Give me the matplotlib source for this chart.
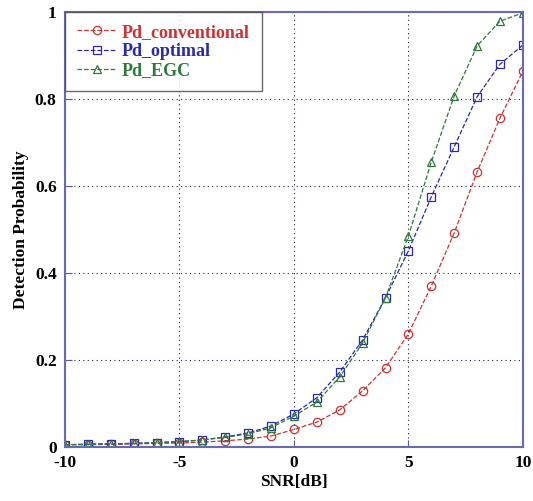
import matplotlib.pyplot as plt
import numpy as np
from matplotlib.ticker import FuncFormatter

snr = [-10, -9, -8, -7, -6, -5, -4, -3, -2, -1, 0, 1, 2, 3, 4, 5, 6, 7, 8, 9, 10]
pd_conventional = [0.005, 0.005, 0.006, 0.007, 0.008, 0.009, 0.011, 0.014, 0.018, 0.025,
                   0.040, 0.057, 0.085, 0.129, 0.182, 0.260, 0.370, 0.492, 0.632, 0.756, 0.864]
pd_optimal = [0.005, 0.006, 0.007, 0.008, 0.010, 0.012, 0.016, 0.023, 0.032, 0.048,
              0.076, 0.113, 0.172, 0.246, 0.343, 0.451, 0.575, 0.690, 0.805, 0.880, 0.924]
pd_egc = [0.005, 0.006, 0.007, 0.008, 0.010, 0.012, 0.016, 0.022, 0.030, 0.044,
          0.071, 0.103, 0.161, 0.239, 0.343, 0.485, 0.655, 0.807, 0.922, 0.979, 0.998]

plt.rcParams['font.family'] = ['Liberation Serif', 'DejaVu Serif']
plt.rcParams['axes.unicode_minus'] = False

fig = plt.figure(figsize=(5.33, 5.01), dpi=100)
ax = fig.add_axes([0.122, 0.108, 0.859, 0.868])

red = '#cc3333'
blue = '#2a2aaa'
green = '#2e7a3a'
ax.plot(snr, pd_conventional, '--', color=red, lw=0.9, marker='o', ms=6,
        mfc='none', mew=0.9, label='Pd_conventional')
ax.plot(snr, pd_optimal, '--', color=blue, lw=0.9, marker='s', ms=6,
        mfc='none', mew=0.9, label='Pd_optimal')
ax.plot(snr, pd_egc, '--', color=green, lw=0.9, marker='^', ms=6,
        mfc='none', mew=0.9, label='Pd_EGC')

ax.set_xlim(-10, 10)
ax.set_ylim(0, 1)
ax.set_xticks([-10, -5, 0, 5, 10])
ax.set_yticks([0, 0.2, 0.4, 0.6, 0.8, 1])
ax.yaxis.set_major_formatter(FuncFormatter(lambda v, p: '%g' % v))
ax.grid(True, color='#222244', linestyle=(0, (1, 3)), lw=0.8)
ax.tick_params(direction='in', length=5, color='#5555aa', labelsize=12.5, pad=6)
for lab in ax.get_xticklabels() + ax.get_yticklabels():
    lab.set_fontweight('bold')
for s in ax.spines.values():
    s.set_color('#6a6ab0')
    s.set_linewidth(1.5)

ax.set_xlabel('SNR[dB]', fontsize=12.5, fontweight='bold', labelpad=2)
ax.set_ylabel('Detection Probability', fontsize=12.5, fontweight='bold')

leg = ax.legend(loc='upper left', borderaxespad=0, fancybox=False,
                prop={'weight': 'bold', 'size': 13}, handlelength=2.2,
                handletextpad=0.3, labelspacing=0.12, borderpad=0.65)
leg.get_frame().set_edgecolor('#444444')
leg.get_frame().set_linewidth(1.0)
for t, c in zip(leg.get_texts(), [red, blue, green]):
    t.set_color(c)

plt.savefig('out.png', dpi=100)
plt.close()
